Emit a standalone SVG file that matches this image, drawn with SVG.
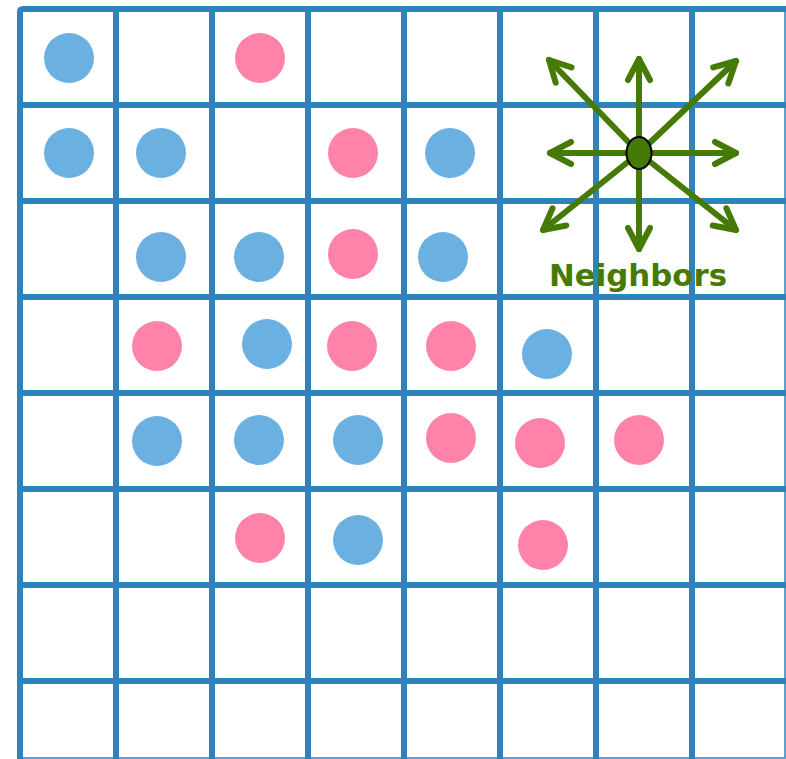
<svg xmlns="http://www.w3.org/2000/svg" width="786" height="759" viewBox="0 0 786 759">
<style>
.g{stroke:#2e83ba;stroke-width:6;fill:none}
.t{stroke:#2e83ba;stroke-width:1.5;fill:none}
.b{fill:#6ab1e2}
.p{fill:#ff83a9}
.a{stroke:#467a06;stroke-width:6;stroke-linecap:round;fill:none}
.lbl{font-family:"DejaVu Sans","Liberation Sans",sans-serif;font-weight:bold;font-size:31px;fill:#467a06}
</style>
<defs>
<marker id="ah" markerUnits="userSpaceOnUse" markerWidth="40" markerHeight="40" refX="0" refY="0" orient="auto" overflow="visible" viewBox="-30 -20 40 40">
<path d="M-21,-11 L0,0 L-21,11" stroke="#467a06" stroke-width="6" stroke-linecap="round" stroke-linejoin="round" fill="none"/>
</marker>
</defs>
<rect width="786" height="759" fill="#fff"/>
<g id="grid">
<path class="g" d="M20,759 V12 Q20,9 23,9 H786"/>
<path class="g" d="M116,9V759M212,9V759M308,9V759M404,9V759M500,9V759M596,9V759M692,9V759"/>
<path class="g" d="M20,105H786M20,201H786M20,297H786M20,393H786M20,489H786M20,585H786M20,681H786"/>
<path class="t" d="M785,9V758H20"/>
</g>
<g id="agents">
<g id="c1"><circle class="b" cx="69" cy="58" r="25"/></g>
<g id="c2"><circle class="p" cx="260" cy="58" r="25"/></g>
<g id="c3"><circle class="b" cx="69" cy="153" r="25"/></g>
<g id="c4"><circle class="b" cx="161" cy="153" r="25"/></g>
<g id="c5"><circle class="p" cx="353" cy="153" r="25"/></g>
<g id="c6"><circle class="b" cx="450" cy="153" r="25"/></g>
<g id="c7"><circle class="b" cx="161" cy="257" r="25"/></g>
<g id="c8"><circle class="b" cx="259" cy="257" r="25"/></g>
<g id="c9"><circle class="p" cx="353" cy="254" r="25"/></g>
<g id="c10"><circle class="b" cx="443" cy="257" r="25"/></g>
<g id="c11"><circle class="p" cx="157" cy="346" r="25"/></g>
<g id="c12"><circle class="b" cx="267" cy="344" r="25"/></g>
<g id="c13"><circle class="p" cx="352" cy="346" r="25"/></g>
<g id="c14"><circle class="p" cx="451" cy="346" r="25"/></g>
<g id="c15"><circle class="b" cx="547" cy="354" r="25"/></g>
<g id="c16"><circle class="b" cx="157" cy="441" r="25"/></g>
<g id="c17"><circle class="b" cx="259" cy="440" r="25"/></g>
<g id="c18"><circle class="b" cx="358" cy="440" r="25"/></g>
<g id="c19"><circle class="p" cx="451" cy="438" r="25"/></g>
<g id="c20"><circle class="p" cx="540" cy="443" r="25"/></g>
<g id="c21"><circle class="p" cx="639" cy="440" r="25"/></g>
<g id="c22"><circle class="p" cx="260" cy="538" r="25"/></g>
<g id="c23"><circle class="b" cx="358" cy="540" r="25"/></g>
<g id="c24"><circle class="p" cx="543" cy="545" r="25"/></g>
</g>
<g id="connectors">
<line class="a" x1="639" y1="153" x2="639" y2="59" marker-end="url(#ah)"/>
<line class="a" x1="639" y1="153" x2="639" y2="249" marker-end="url(#ah)"/>
<line class="a" x1="639" y1="153" x2="550" y2="153" marker-end="url(#ah)"/>
<line class="a" x1="639" y1="153" x2="736" y2="153" marker-end="url(#ah)"/>
<line class="a" x1="639" y1="153" x2="549" y2="60" marker-end="url(#ah)"/>
<line class="a" x1="639" y1="153" x2="736" y2="61" marker-end="url(#ah)"/>
<line class="a" x1="639" y1="153" x2="543" y2="230" marker-end="url(#ah)"/>
<line class="a" x1="639" y1="153" x2="736" y2="230" marker-end="url(#ah)"/>
</g>
<g id="center">
<ellipse cx="639" cy="153" rx="12.5" ry="16" fill="#467a06" stroke="#000" stroke-width="2"/>
</g>
<g id="label">
<text class="lbl" x="638" y="286" text-anchor="middle" textLength="178" lengthAdjust="spacingAndGlyphs">Neighbors</text>
</g>
</svg>
